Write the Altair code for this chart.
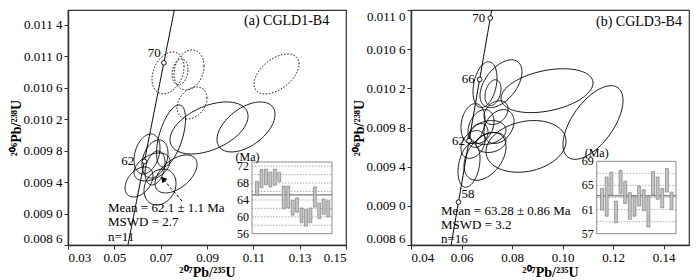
import altair as alt
import numpy as np
import pandas as pd

FONT = "Liberation Serif"

# ---------------- Panel (a) CGLD1-B4 ----------------
A_X_DOMAIN = [0.03, 0.15]
A_Y_DOMAIN = [0.0086, 0.01159]
A_X_TICKS = [0.03, 0.05, 0.07, 0.09, 0.11, 0.13, 0.15]
A_Y_TICKS = [0.0086, 0.0090, 0.0094, 0.0098, 0.0102, 0.0106, 0.0110, 0.0114]
A_ELL_X = [0.07317, 0.07835, 0.08224, 0.08353, 0.12001, 0.07447, 0.09087, 0.10684,
           0.06410, 0.06756, 0.06065, 0.06972, 0.07662, 0.06756, 0.06626]
A_ELL_Y = [0.010789, 0.010802, 0.010827, 0.010407, 0.010776, 0.009987, 0.010089, 0.010102,
           0.009758, 0.009695, 0.009402, 0.009338, 0.009504, 0.009580, 0.009593]
A_ELL_SX = [0.00691, 0.00345, 0.00648, 0.00648, 0.00971, 0.00626, 0.01684, 0.01252,
            0.00561, 0.00561, 0.00604, 0.00691, 0.00907, 0.00432, 0.00777]
A_ELL_SY = [0.000267, 0.000165, 0.000255, 0.000204, 0.000255, 0.000395, 0.000331, 0.000318,
            0.000255, 0.000242, 0.000191, 0.000229, 0.000242, 0.000216, 0.000178]
A_ELL_R = [0.3, 0.2, 0.2, 0.3, 0.5, 0.55, 0.45, 0.5, 0.3, 0.3, 0.4, 0.2, 0.5, 0.3, 0.4]
A_ELL_EXCL = [1, 1, 1, 1, 1, 0, 0, 0, 0, 0, 0, 0, 0, 0, 0]
A_AGES = [62, 70]
A_TITLE = "(a) CGLD1-B4"
A_NOTES = ["Mean = 62.1 ± 1.1 Ma", "MSWD = 2.7", "n=11"]
A_ARROW_X = [0.07921, 0.07101]
A_ARROW_Y = [0.009160, 0.009440]
A_BAR_LO = [65.1, 66.9, 67.6, 67.1, 67.5, 68.3, 61.9, 62.1, 60.4, 61.1, 58.6, 57.8, 58.6, 62.3, 59.6, 60.6, 60.0]
A_BAR_HI = [68.4, 71.2, 71.3, 70.6, 71.3, 70.5, 67.3, 67.3, 63.9, 64.5, 62.1, 61.7, 62.1, 67.1, 63.3, 64.2, 63.8]
A_INSET_TICKS = [56, 60, 64, 68, 72]
A_INSET_GRID = [58, 60, 62, 64, 66, 68, 70, 72]
A_INSET_MEAN = [65.2]
A_INSET_YDOM = [56, 73]
A_INSET_XDOM = [-0.14, 17.86]

# ---------------- Panel (b) CGLD3-B4 ----------------
B_X_DOMAIN = [0.04, 0.15]
B_Y_DOMAIN = [0.0086, 0.0110]
B_X_TICKS = [0.04, 0.06, 0.08, 0.10, 0.12, 0.14]
B_Y_TICKS = [0.0086, 0.0090, 0.0094, 0.0098, 0.0102, 0.0106, 0.0110]
B_ELL_X = [0.06928, 0.07561, 0.07245, 0.06453, 0.06770, 0.07482, 0.07047, 0.06295,
           0.06928, 0.06651, 0.07166, 0.06453, 0.07363, 0.09382, 0.11202, 0.08551]
B_ELL_Y = [0.010237, 0.010247, 0.010156, 0.009841, 0.009810, 0.009810, 0.009749, 0.009414,
           0.009505, 0.009719, 0.009647, 0.009627, 0.009952, 0.010176, 0.009851, 0.009607]
B_ELL_SX = [0.00475, 0.00831, 0.00317, 0.00475, 0.00514, 0.00594, 0.00712, 0.00435,
            0.00831, 0.00396, 0.00594, 0.00475, 0.00475, 0.01820, 0.01187, 0.01583]
B_ELL_SY = [0.000234, 0.000244, 0.000132, 0.000203, 0.000173, 0.000173, 0.000122, 0.000224,
            0.000244, 0.000122, 0.000102, 0.000142, 0.000122, 0.000224, 0.000376, 0.000264]
B_ELL_R = [0.3, 0.5, 0.3, 0.2, 0.3, 0.3, 0.2, 0.3, 0.4, 0.3, 0.2, 0.3, 0.3, 0.35, 0.6, 0.2]
B_ELL_EXCL = [0] * 16
B_AGES = [58, 62, 66, 70]
B_TITLE = "(b) CGLD3-B4"
B_NOTES = ["Mean = 63.28 ± 0.86 Ma", "MSWD = 3.2", "n=16"]
B_BAR_LO = [60.9, 59.9, 63.4, 58.8, 63.6, 62.0, 59.4, 59.9, 61.6, 60.8, 58.1, 63.5, 62.7, 61.3, 63.9, 61.0]
B_BAR_HI = [64.5, 66.4, 67.2, 62.4, 67.5, 65.7, 63.8, 63.2, 64.9, 64.3, 63.1, 67.3, 66.4, 64.5, 67.8, 63.9]
B_INSET_TICKS = [57, 61, 65, 69]
B_INSET_GRID = [59, 61, 63, 65, 67]
B_INSET_MEAN = [63.28]
B_INSET_YDOM = [57, 69]
B_INSET_XDOM = [-0.15, 16.96]

# decay constants (per Ma)
L238 = 1.55125e-4
L235 = 9.8485e-4

W, H = 278, 235


def ellipse_table(X, Y, SX, SY, R, EXCL):
    t = np.linspace(0, 2 * np.pi, 97)
    rows = []
    for k in range(len(X)):
        xs = X[k] + SX[k] * np.cos(t)
        ys = Y[k] + SY[k] * (R[k] * np.cos(t) + np.sqrt(1 - R[k] ** 2) * np.sin(t))
        for j in range(len(t)):
            rows.append({"id": k, "j": j, "x": xs[j], "y": ys[j], "excl": EXCL[k]})
    return pd.DataFrame(rows)


def panel(xdom, ydom, xticks, yticks, ell, ages, age_style, title, title_pos,
          notes, notes_pos, bars_lo, bars_hi, inset_ticks, inset_grid, inset_mean,
          inset_ydom, inset_xdom, inset_box, ma_offset, arrow=None):
    xs = alt.Scale(domain=xdom, nice=False, zero=False)
    ys = alt.Scale(domain=ydom, nice=False, zero=False)
    xaxis = alt.Axis(values=xticks, format=".2f", title="²⁰⁷Pb/²³⁵U", titlePadding=1,
                     titleFontWeight="bold")
    yaxis = alt.Axis(values=yticks, title="²⁰⁶Pb/²³⁸U", labelFlush=True, titlePadding=0,
                     titleFontWeight="bold",
                     labelExpr="slice(format(datum.value,'.4f'),0,5) + ' ' + slice(format(datum.value,'.4f'),5)")
    X = alt.X("x:Q", scale=xs, axis=xaxis)
    Y = alt.Y("y:Q", scale=ys, axis=yaxis)

    solid = alt.Chart(ell).transform_filter("datum.excl == 0").mark_line(
        color="black", strokeWidth=0.9, clip=True).encode(x=X, y=Y, detail="id:N", order="j:Q")
    dashed = alt.Chart(ell).transform_filter("datum.excl == 1").mark_line(
        color="black", strokeWidth=0.9, strokeDash=[1.6, 1.6], clip=True).encode(
        x=X, y=Y, detail="id:N", order="j:Q")
    conc = alt.Chart(alt.sequence(50, 80, 0.25, as_="age")).transform_calculate(
        x=f"exp({L235}*datum.age)-1", y=f"exp({L238}*datum.age)-1").mark_line(
        color="black", strokeWidth=1, clip=True).encode(x=X, y=Y, order="age:Q")
    age_df = pd.DataFrame({"age": ages})
    markers = alt.Chart(age_df).transform_calculate(
        x=f"exp({L235}*datum.age)-1", y=f"exp({L238}*datum.age)-1").mark_point(
        shape="circle", filled=True, fill="white", stroke="black", strokeWidth=0.9,
        size=22, opacity=1).encode(x=X, y=Y)
    layers = [dashed, solid, conc, markers]
    for a in ages:
        st = age_style[a]
        layers.append(alt.Chart(pd.DataFrame({"age": [a]})).transform_calculate(
            x=f"exp({L235}*datum.age)-1", y=f"exp({L238}*datum.age)-1").mark_text(
            font=FONT, fontSize=13, align=st[0], baseline="middle", dx=st[1], dy=st[2],
            color="black").encode(x=X, y=Y, text="age:N"))
    if arrow is not None:
        adf = pd.DataFrame({"x": arrow[0], "y": arrow[1], "k": [0, 1]})
        layers.append(alt.Chart(adf).mark_line(color="black", strokeWidth=1,
                                                strokeDash=[3, 2]).encode(x=X, y=Y, order="k:Q"))
        layers.append(alt.Chart(adf.iloc[[1]]).mark_point(
            shape="triangle-up", filled=True, color="black", size=45, angle=319,
            opacity=1).encode(x=X, y=Y))
    layers.append(alt.Chart(pd.DataFrame({"t": [title]})).mark_text(
        font=FONT, fontSize=14, align="left", baseline="middle", color="black").encode(
        x=alt.value(title_pos[0]), y=alt.value(title_pos[1]), text="t:N"))
    for i, line in enumerate(notes):
        layers.append(alt.Chart(pd.DataFrame({"t": [line]})).mark_text(
            font=FONT, fontSize=13, align="left", baseline="middle", color="black").encode(
            x=alt.value(notes_pos[0]), y=alt.value(notes_pos[1] + i * notes_pos[2]), text="t:N"))
    main = alt.layer(*layers)

    # ---- inset ----
    ixs = alt.Scale(domain=inset_xdom, range=[inset_box[0], inset_box[1]], nice=False, zero=False)
    iys = alt.Scale(domain=inset_ydom, range=[inset_box[2], inset_box[3]], nice=False, zero=False)
    frame_df = pd.DataFrame({"x0": [inset_xdom[0]], "x1": [inset_xdom[1]],
                             "y0": [inset_ydom[0]], "y1": [inset_ydom[1]]})
    frame = alt.Chart(frame_df).mark_rect(fill="white", stroke="#8c8c8c", strokeWidth=1).encode(
        x=alt.X("x0:Q", scale=ixs, axis=None), x2="x1:Q",
        y=alt.Y("y0:Q", scale=iys, axis=None), y2="y1:Q")
    grid_df = pd.DataFrame({"g": inset_grid, "x0": inset_xdom[0], "x1": inset_xdom[1]})
    grid = alt.Chart(grid_df).mark_rule(color="#9a9a9a", strokeWidth=0.8, strokeDash=[1.5, 1.5]).encode(
        x=alt.X("x0:Q", scale=ixs, axis=None), x2="x1:Q", y=alt.Y("g:Q", scale=iys, axis=None))
    mean_df = pd.DataFrame({"g": inset_mean, "x0": inset_xdom[0], "x1": inset_xdom[1]})
    mean = alt.Chart(mean_df).mark_rule(color="#555555", strokeWidth=1).encode(
        x=alt.X("x0:Q", scale=ixs, axis=None), x2="x1:Q", y=alt.Y("g:Q", scale=iys, axis=None))
    bar_df = pd.DataFrame({"i": list(range(1, len(bars_lo) + 1)), "lo": bars_lo, "hi": bars_hi})
    bars = alt.Chart(bar_df).mark_bar(size=3, fill="#c4c4c4", stroke="#707070", strokeWidth=0.6).encode(
        x=alt.X("i:Q", scale=ixs, axis=None), y=alt.Y("lo:Q", scale=iys, axis=None), y2="hi:Q")
    tick_df = pd.DataFrame({"v": inset_ticks, "x0": inset_xdom[0]})
    ticks = alt.Chart(tick_df).mark_text(font=FONT, fontSize=12, align="right", baseline="middle",
                                         dx=-3, color="black").encode(
        x=alt.X("x0:Q", scale=ixs, axis=None), y=alt.Y("v:Q", scale=iys, axis=None), text="v:N")
    ma_df = pd.DataFrame({"t": ["(Ma)"], "x0": [inset_xdom[0]], "y1": [inset_ydom[1]]})
    ma = alt.Chart(ma_df).mark_text(font=FONT, fontSize=12, align="center", baseline="middle",
                                    dx=ma_offset[0], dy=ma_offset[1], color="black").encode(
        x=alt.X("x0:Q", scale=ixs, axis=None), y=alt.Y("y1:Q", scale=iys, axis=None), text="t:N")
    inset = alt.layer(frame, grid, mean, bars, ticks, ma)

    return alt.layer(main, inset).resolve_scale(x="independent", y="independent").properties(
        width=W, height=H)


pa = panel(A_X_DOMAIN, A_Y_DOMAIN, A_X_TICKS, A_Y_TICKS,
           ellipse_table(A_ELL_X, A_ELL_Y, A_ELL_SX, A_ELL_SY, A_ELL_R, A_ELL_EXCL),
           A_AGES, {62: ("right", -10, 0), 70: ("right", -3, -10)},
           A_TITLE, (176, 11), A_NOTES, (40, 198, 14.3),
           A_BAR_LO, A_BAR_HI, A_INSET_TICKS, A_INSET_GRID, A_INSET_MEAN,
           A_INSET_YDOM, A_INSET_XDOM, (179, 269, 223.7, 152), (-4.5, -5),
           arrow=(A_ARROW_X, A_ARROW_Y))
pb = panel(B_X_DOMAIN, B_Y_DOMAIN, B_X_TICKS, B_Y_TICKS,
           ellipse_table(B_ELL_X, B_ELL_Y, B_ELL_SX, B_ELL_SY, B_ELL_R, B_ELL_EXCL),
           B_AGES, {58: ("left", 3, -8), 62: ("right", -4, 0), 66: ("right", -5, 0), 70: ("right", -5, 0)},
           B_TITLE, (185, 12), B_NOTES, (30, 201, 14.2),
           B_BAR_LO, B_BAR_HI, B_INSET_TICKS, B_INSET_GRID, B_INSET_MEAN,
           B_INSET_YDOM, B_INSET_XDOM, (180.7, 270, 223.7, 151.3), (0, -8))

chart = alt.hconcat(pa, pb, spacing=3).properties(
    padding={"left": 0, "top": 0, "right": 0, "bottom": 0}
).configure_view(stroke="#333333", strokeWidth=1.2).configure_axis(
    labelFont=FONT, titleFont=FONT, labelFontSize=13, titleFontSize=14,
    labelColor="black", titleColor="black", domainColor="#333333", domainWidth=1.5,
    tickColor="#333333", tickSize=4, tickWidth=1, grid=False, labelPadding=2
).configure_text(font=FONT)

chart.save("out.html", embed_options={"renderer": "svg", "actions": False})
